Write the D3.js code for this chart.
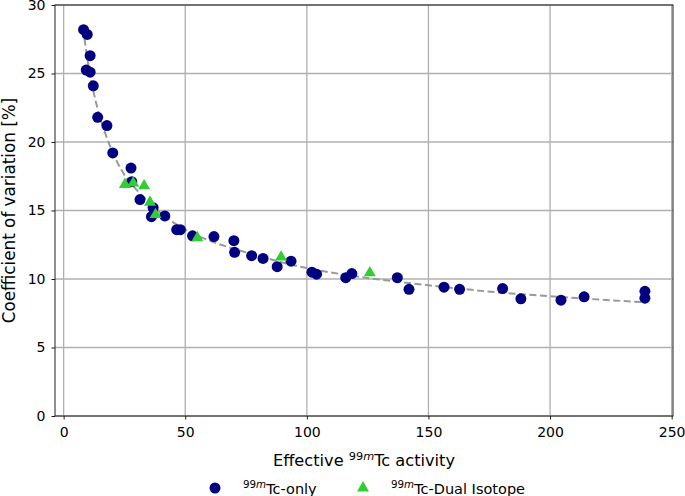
<!DOCTYPE html>
<html>
<head>
<meta charset="utf-8">
<script src="https://cdn.jsdelivr.net/npm/d3@7/dist/d3.min.js"></script>
<style>
  html, body { margin: 0; padding: 0; background: #fff; }
  svg { display: block; }
  text { font-family: "DejaVu Sans", sans-serif; fill: #000; }
</style>
</head>
<body>
<svg id="chart" width="685" height="496"></svg>
<script>
// ---- data ----
const tcOnlyX = [8.2, 9.7, 10.9, 9.3, 10.9, 12.2, 14.0, 17.8, 20.2, 27.7, 28.0, 31.4, 36.8, 36.1, 41.6,
                 46.5, 48.0, 53.0, 61.8, 70.0, 70.3, 77.3, 82.0, 87.8, 93.5, 102.1, 104.0, 116.0, 118.5,
                 137.2, 142.0, 156.4, 162.8, 180.5, 188.0, 204.5, 214.0, 239.0, 239.0];
const tcOnlyY = [28.2, 27.85, 26.3, 25.25, 25.1, 24.1, 21.8, 21.2, 19.2, 18.1, 17.1, 15.8, 15.2, 14.55, 14.6,
                 13.6, 13.6, 13.15, 13.1, 12.8, 11.95, 11.7, 11.5, 10.9, 11.3, 10.5, 10.35, 10.1, 10.4,
                 10.1, 9.25, 9.4, 9.25, 9.3, 8.55, 8.45, 8.7, 9.1, 8.6];
const dualX = [25.2, 28.6, 33.1, 35.5, 37.8, 55.0, 89.4, 125.9];
const dualY = [16.9, 17.0, 16.8, 15.6, 14.7, 13.0, 11.6, 10.45];
const fitX = [8, 10, 12, 14, 17, 20, 25, 30, 35, 40, 50, 60, 70, 80, 90, 100, 120, 140, 160, 180, 200, 220, 239];
const fitY = [28.3, 25.8, 23.9, 22.4, 20.7, 19.3, 17.6, 16.5, 15.6, 14.8, 13.6, 12.8, 12.2, 11.7, 11.2, 10.8,
              10.2, 9.75, 9.35, 9.0, 8.75, 8.5, 8.3];
const xTicks = [0, 50, 100, 150, 200, 250];
const yTicks = [0, 5, 10, 15, 20, 25, 30];

// ---- layout ----
const svg = d3.select("#chart");
const L = 55, R = 673, T = 5, B = 416;
const x = d3.scaleLinear().domain([-3.55, 250.55]).range([L, R]);
const y = d3.scaleLinear().domain([0, 30]).range([B, T]);

// grid
const grid = svg.append("g");
grid.selectAll("line.gx").data(xTicks).join("line")
  .attr("x1", d => x(d)).attr("x2", d => x(d)).attr("y1", T).attr("y2", B)
  .attr("stroke", "#b0b0b0").attr("stroke-width", 1.3);
grid.selectAll("line.gy").data(yTicks).join("line")
  .attr("x1", L).attr("x2", R).attr("y1", d => y(d)).attr("y2", d => y(d))
  .attr("stroke", "#b0b0b0").attr("stroke-width", 1.3);

// axes
const xAxis = d3.axisBottom(x).tickValues(xTicks).tickSize(3.5).tickPadding(8).tickFormat(d3.format("d"));
const yAxis = d3.axisLeft(y).tickValues(yTicks).tickSize(3.5).tickPadding(6).tickFormat(d3.format("d"));
const gx = svg.append("g").attr("transform", `translate(0,${B})`).call(xAxis);
const gy = svg.append("g").attr("transform", `translate(${L},0)`).call(yAxis);
[gx, gy].forEach(g => {
  g.select(".domain").remove();
  g.selectAll(".tick line").attr("stroke", "#000").attr("stroke-width", 0.9);
  g.selectAll(".tick text").attr("font-family", "DejaVu Sans").attr("font-size", 14).attr("fill", "#000");
});

// frame
svg.append("rect").attr("x", L).attr("y", T).attr("width", R - L).attr("height", B - T)
  .attr("fill", "none").attr("stroke", "#222").attr("stroke-width", 1);

// fit line
const fitData = fitX.map((d, i) => [d, fitY[i]]);
svg.append("path").datum(fitData)
  .attr("d", d3.line().x(d => x(d[0])).y(d => y(d[1])).curve(d3.curveMonotoneX))
  .attr("fill", "none").attr("stroke", "#999").attr("stroke-width", 2).attr("stroke-dasharray", "7,3.5");

// markers
const blue = tcOnlyX.map((d, i) => [d, tcOnlyY[i]]);
svg.append("g").selectAll("circle").data(blue).join("circle")
  .attr("cx", d => x(d[0])).attr("cy", d => y(d[1])).attr("r", 5.5).attr("fill", "#000080");
const green = dualX.map((d, i) => [d, dualY[i]]);
const tri = d3.symbol().type(d3.symbolTriangle).size(62);
svg.append("g").selectAll("path").data(green).join("path")
  .attr("d", tri).attr("transform", d => `translate(${x(d[0])},${y(d[1])})`).attr("fill", "#32cd32");

// axis labels
const xl = svg.append("text").attr("x", (L + R) / 2 + 0).attr("y", 466).attr("text-anchor", "middle")
  .attr("font-size", 16.2);
xl.append("tspan").text("Effective ");
xl.append("tspan").attr("font-size", 11.3).attr("dy", -6.5).text("99");
xl.append("tspan").attr("font-size", 11.3).attr("font-style", "italic").text("m");
xl.append("tspan").attr("dy", 6.5).text("Tc activity");

svg.append("text").attr("transform", `translate(14.5,${(T + B) / 2}) rotate(-90)`)
  .attr("text-anchor", "middle").attr("font-size", 16.8).text("Coefficient of variation [%]");

// legend
const ly = 488;
svg.append("circle").attr("cx", 215).attr("cy", ly).attr("r", 5.5).attr("fill", "#000080");
const t1 = svg.append("text").attr("x", 243).attr("y", ly + 6).attr("font-size", 14.5);
t1.append("tspan").attr("font-size", 10.3).attr("dy", -6).text("99");
t1.append("tspan").attr("font-size", 10.3).attr("font-style", "italic").text("m");
t1.append("tspan").attr("dy", 6).text("Tc-only");
svg.append("path").attr("d", tri).attr("transform", `translate(363,${ly})`).attr("fill", "#32cd32");
const t2 = svg.append("text").attr("x", 391).attr("y", ly + 6).attr("font-size", 14.5);
t2.append("tspan").attr("font-size", 10.3).attr("dy", -6).text("99");
t2.append("tspan").attr("font-size", 10.3).attr("font-style", "italic").text("m");
t2.append("tspan").attr("dy", 6).text("Tc-Dual Isotope");
</script>
</body>
</html>
